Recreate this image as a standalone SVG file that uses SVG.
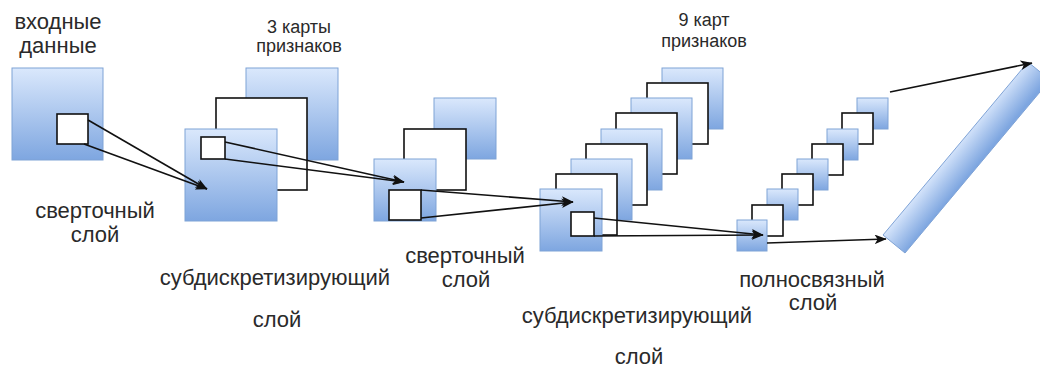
<svg xmlns="http://www.w3.org/2000/svg" width="1040" height="367" viewBox="0 0 1040 367">
<defs>
<linearGradient id="g" x1="0" y1="0" x2="0" y2="1"><stop offset="0" stop-color="#dae8fc"/><stop offset="1" stop-color="#7ea6e0"/></linearGradient>
<linearGradient id="gb" gradientUnits="userSpaceOnUse" x1="883" y1="235" x2="905" y2="253"><stop offset="0" stop-color="#d6e5fb"/><stop offset="1" stop-color="#7ea6e0"/></linearGradient>
<marker id="ah" viewBox="0 0 10 8" refX="9.5" refY="4" markerWidth="12" markerHeight="9.6" markerUnits="userSpaceOnUse" orient="auto"><path d="M0,0 L10,4 L0,8 L2.5,4 z" fill="#111"/></marker>
</defs>
<style>
.b{fill:url(#g);stroke:#7fa3d6;stroke-width:1}
.w{fill:#fff;stroke:#111;stroke-width:1.6}
.c{fill:none;stroke:#111;stroke-width:1.6;marker-end:url(#ah)}
text{font-family:"Liberation Sans",Arial,sans-serif;fill:#2a2a2a;text-anchor:middle}
.l{font-size:22px}
.s{font-size:18px}
</style>
<rect width="1040" height="367" fill="#fff"/>
<g id="input">
<rect class="b" x="12" y="68" width="91" height="92"/>
<rect class="w" x="57" y="114" width="31" height="30"/>
</g>
<g id="conv1">
<rect class="b" x="246" y="68" width="92" height="92"/>
<rect class="w" x="216" y="98" width="91" height="92"/>
<rect class="b" x="185" y="129" width="92" height="92"/>
<rect class="w" x="201" y="137" width="24" height="22"/>
</g>
<g id="pool1">
<rect class="b" x="434" y="98" width="62" height="61"/>
<rect class="w" x="404" y="129" width="62" height="61"/>
<rect class="b" x="374" y="159" width="62" height="62"/>
<rect class="w" x="389" y="190" width="32" height="30"/>
</g>
<g id="conv2">
<rect class="b" x="662" y="68" width="61" height="61"/>
<rect class="w" x="647" y="83" width="61" height="61"/>
<rect class="b" x="631" y="98" width="61" height="61"/>
<rect class="w" x="616" y="113" width="61" height="61"/>
<rect class="b" x="601" y="129" width="61" height="61"/>
<rect class="w" x="586" y="144" width="61" height="61"/>
<rect class="b" x="571" y="159" width="61" height="61"/>
<rect class="w" x="556" y="174" width="61" height="61"/>
<rect class="b" x="540" y="189" width="62" height="62"/>
<rect class="w" x="571" y="212" width="23" height="24"/>
</g>
<g id="pool2">
<rect class="b" x="857" y="98" width="31" height="31"/>
<rect class="w" x="842" y="113" width="31" height="31"/>
<rect class="b" x="827" y="129" width="31" height="31"/>
<rect class="w" x="812" y="144" width="31" height="31"/>
<rect class="b" x="797" y="159" width="31" height="31"/>
<rect class="w" x="782" y="174" width="31" height="31"/>
<rect class="b" x="767" y="189" width="31" height="31"/>
<rect class="w" x="752" y="205" width="31" height="31"/>
<rect class="b" x="737" y="220" width="30" height="31"/>
</g>
<g id="fc">
<polygon points="883,235 1028,62 1050,80 905,253" fill="url(#gb)" stroke="#7fa3d6" stroke-width="1"/>
</g>
<g id="connectors">
<line class="c" x1="88" y1="120" x2="207" y2="189"/>
<line class="c" x1="84" y1="144" x2="207" y2="189"/>
<line class="c" x1="225" y1="142" x2="404" y2="182"/>
<line class="c" x1="225" y1="159" x2="404" y2="182"/>
<line class="c" x1="421" y1="190" x2="573" y2="202"/>
<line class="c" x1="421" y1="218" x2="573" y2="202"/>
<line class="c" x1="594" y1="218" x2="763" y2="235"/>
<line class="c" x1="594" y1="236" x2="763" y2="235"/>
<line class="c" x1="767" y1="243" x2="886" y2="239"/>
<line class="c" x1="890" y1="92" x2="1032" y2="63"/>
</g>
<g id="labels">
<text class="l" x="58" y="29">входные</text>
<text class="l" x="58" y="53">данные</text>
<text class="s" x="299" y="33">3 карты</text>
<text class="s" x="299" y="52">признаков</text>
<text class="s" x="704" y="26">9 карт</text>
<text class="s" x="704" y="47">признаков</text>
<text class="l" x="95" y="218">сверточный</text>
<text class="l" x="95" y="242">слой</text>
<text class="l" x="275" y="285">субдискретизирующий</text>
<text class="l" x="277" y="327">слой</text>
<text class="l" x="465" y="263">сверточный</text>
<text class="l" x="466" y="287">слой</text>
<text class="l" x="637" y="323">субдискретизирующий</text>
<text class="l" x="639" y="364">слой</text>
<text class="l" x="812" y="287">полносвязный</text>
<text class="l" x="813" y="310">слой</text>
</g>
</svg>
